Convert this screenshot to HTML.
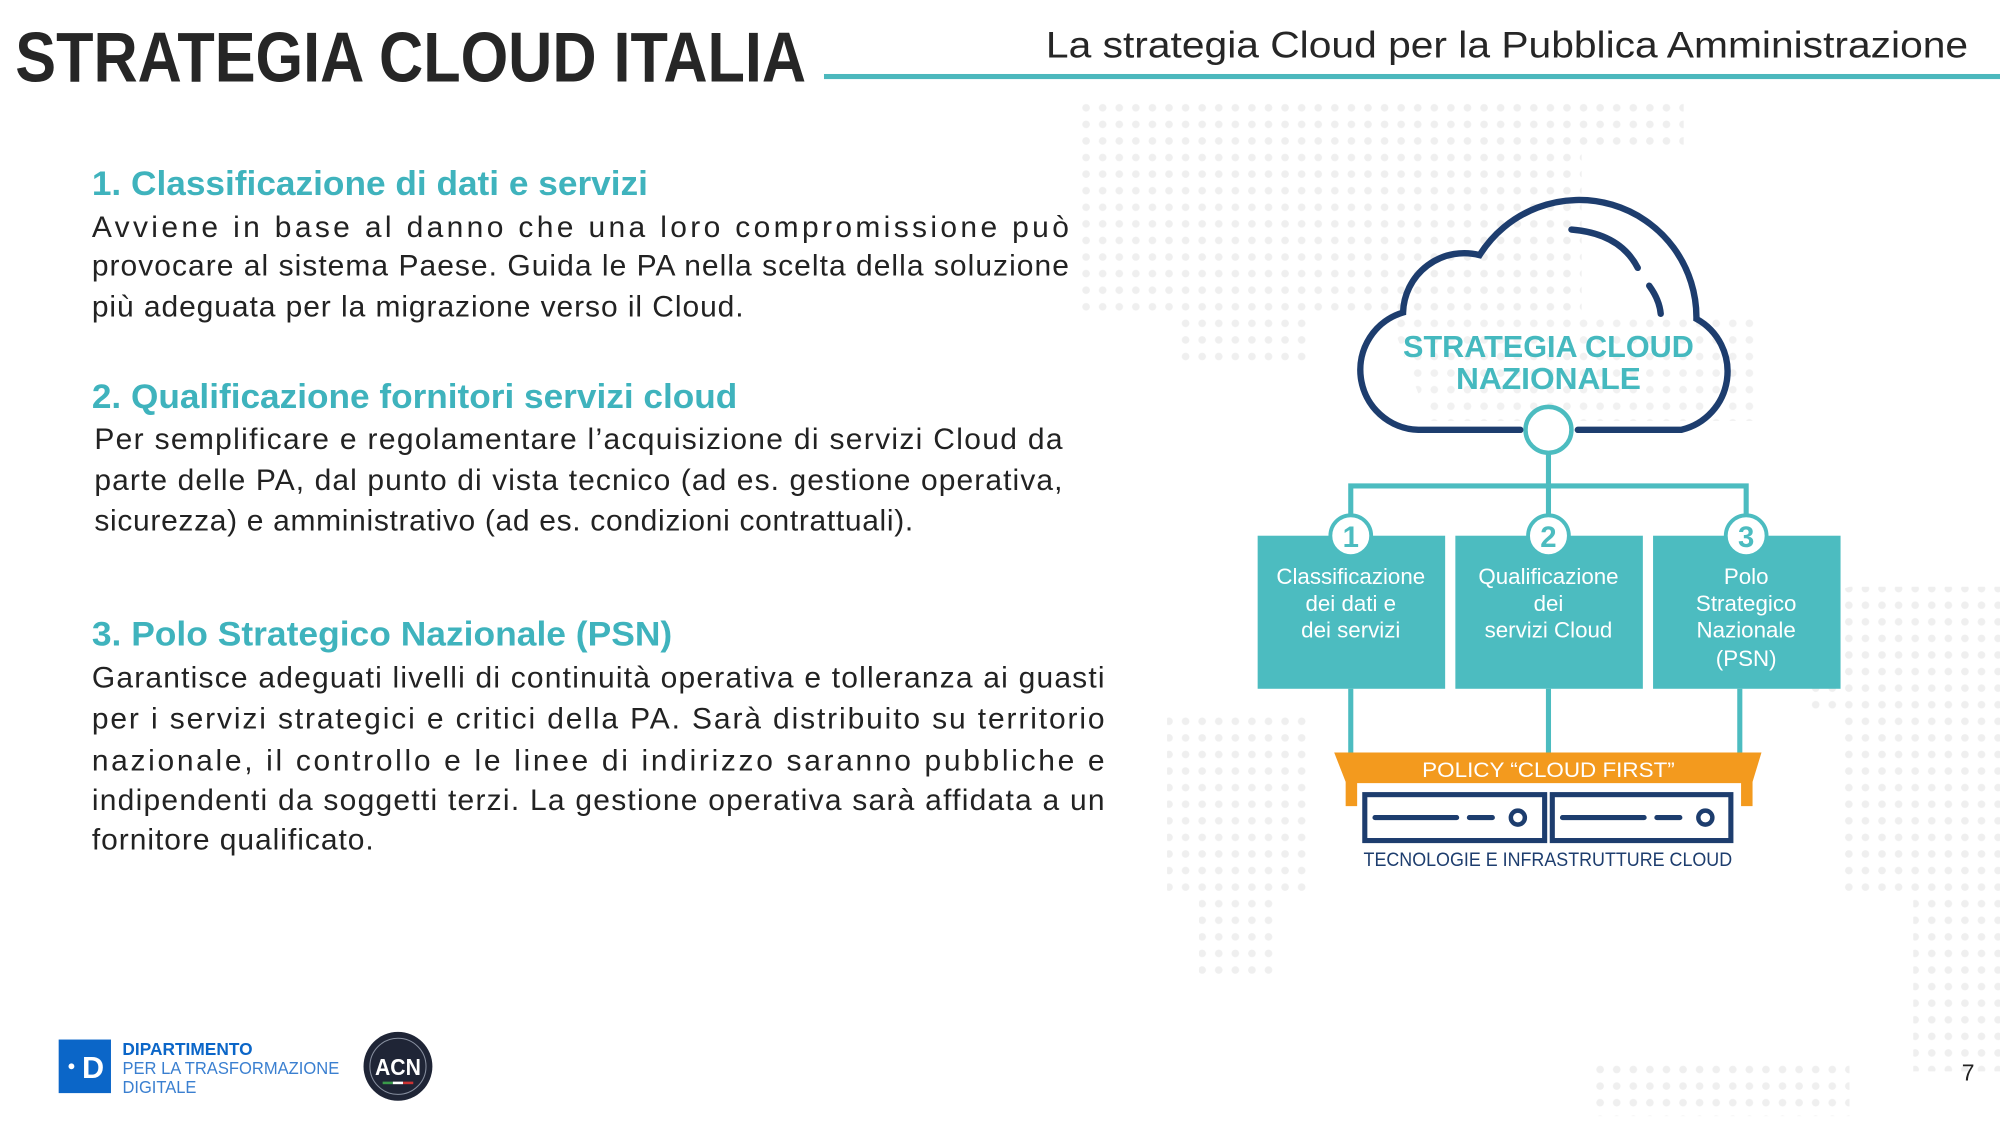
<!DOCTYPE html>
<html><head><meta charset="utf-8"><style>
html,body{margin:0;padding:0;background:#fff}
svg{display:block}
text{font-family:"Liberation Sans",sans-serif}
</style></head><body>
<svg width="2000" height="1125" viewBox="0 0 1568 882" xmlns="http://www.w3.org/2000/svg">
<defs>
<pattern id="dots" width="13" height="13" patternUnits="userSpaceOnUse">
<circle cx="6.5" cy="6.5" r="3" fill="#efefef"/>
</pattern>
</defs>
<rect width="1568" height="882" fill="#fff"/>
<path d="M845,80 H1320 V115 H1240 V250 H1030 V285 H920 V250 H845 Z" fill="url(#dots)"/>
<path d="M1090,250 H1380 V330 H1120 Z" fill="url(#dots)" opacity="0.9"/>
<path d="M915,560 H1030 V700 H1000 V770 H940 V700 H915 Z" fill="url(#dots)"/>
<path d="M1450,460 H1568 V840 H1500 V700 H1440 V560 H1420 V470 Z" fill="url(#dots)"/>
<path d="M1250,835 H1450 V875 H1250 Z" fill="url(#dots)"/>

<text x="12" y="64" font-size="55" font-weight="bold" fill="#262626" textLength="620" lengthAdjust="spacingAndGlyphs">STRATEGIA CLOUD ITALIA</text>
<text x="820" y="45" font-size="29" fill="#262626" textLength="723" lengthAdjust="spacingAndGlyphs">La strategia Cloud per la Pubblica Amministrazione</text>
<rect x="646" y="58" width="922" height="4" fill="#4cb8bd"/>

<g fill="#222" font-size="23.5">
<text x="72" y="153" font-size="27" font-weight="bold" fill="#3fb3bd" textLength="436" lengthAdjust="spacingAndGlyphs">1. Classificazione di dati e servizi</text>
<text x="72" y="186" textLength="766" lengthAdjust="spacing">Avviene in base al danno che una loro compromissione può</text>
<text x="72" y="216" textLength="766" lengthAdjust="spacing">provocare al sistema Paese. Guida le PA nella scelta della soluzione</text>
<text x="72" y="248" textLength="511" lengthAdjust="spacing">più adeguata per la migrazione verso il Cloud.</text>

<text x="72" y="320" font-size="27" font-weight="bold" fill="#3fb3bd" textLength="506" lengthAdjust="spacingAndGlyphs">2. Qualificazione fornitori servizi cloud</text>
<text x="74" y="352" textLength="759" lengthAdjust="spacing">Per semplificare e regolamentare l’acquisizione di servizi Cloud da</text>
<text x="74" y="384" textLength="759" lengthAdjust="spacing">parte delle PA, dal punto di vista tecnico (ad es. gestione operativa,</text>
<text x="74" y="416" textLength="642" lengthAdjust="spacing">sicurezza) e amministrativo (ad es. condizioni contrattuali).</text>

<text x="72" y="506" font-size="27" font-weight="bold" fill="#3fb3bd" textLength="455" lengthAdjust="spacingAndGlyphs">3. Polo Strategico Nazionale (PSN)</text>
<text x="72" y="539" textLength="794" lengthAdjust="spacing">Garantisce adeguati livelli di continuità operativa e tolleranza ai guasti</text>
<text x="72" y="571" textLength="794" lengthAdjust="spacing">per i servizi strategici e critici della PA. Sarà distribuito su territorio</text>
<text x="72" y="604" textLength="794" lengthAdjust="spacing">nazionale, il controllo e le linee di indirizzo saranno pubbliche e</text>
<text x="72" y="635" textLength="794" lengthAdjust="spacing">indipendenti da soggetti terzi. La gestione operativa sarà affidata a un</text>
<text x="72" y="666" textLength="221" lengthAdjust="spacing">fornitore qualificato.</text>
</g>

<g fill="none" stroke="#1d3d6e" stroke-width="5" stroke-linecap="round">
<path d="M1192,337 H1112 A47,47 0 0 1 1100,245 A48,48 0 0 1 1160,200 A92,92 0 0 1 1330,250 A47,47 0 0 1 1318,337 H1237"/>
<path d="M1232,180 Q1270,183 1284,210"/>
<path d="M1293,224 Q1301,235 1302,246"/>
</g>
<text x="1214" y="280" font-size="24" font-weight="bold" fill="#45b9bf" text-anchor="middle" textLength="228" lengthAdjust="spacingAndGlyphs">STRATEGIA CLOUD</text>
<text x="1214" y="305" font-size="24" font-weight="bold" fill="#45b9bf" text-anchor="middle" textLength="145" lengthAdjust="spacingAndGlyphs">NAZIONALE</text>

<g stroke="#4cbcc0" stroke-width="4" fill="none">
<circle cx="1214" cy="337" r="18" stroke-width="3.5" fill="#fff"/>
<path d="M1214,355 V420 M1059,420 V381 H1369 V420"/>
<path d="M1059,540 V592 M1214,540 V592 M1364,540 V592"/>
</g>
<g fill="#4cbcc0">
<rect x="986" y="420" width="147" height="120"/>
<rect x="1141" y="420" width="147" height="120"/>
<rect x="1296" y="420" width="147" height="120"/>
</g>
<g fill="#fff" stroke="#4cbcc0" stroke-width="3">
<circle cx="1059" cy="420" r="16"/><circle cx="1214" cy="420" r="16"/><circle cx="1369" cy="420" r="16"/>
</g>
<g fill="#4cbcc0" font-size="23" font-weight="bold" text-anchor="middle">
<text x="1059" y="429">1</text><text x="1214" y="429">2</text><text x="1369" y="429">3</text>
</g>
<g fill="#fff" font-size="17.5" text-anchor="middle">
<text x="1059" y="458">Classificazione</text><text x="1059" y="479">dei dati e</text><text x="1059" y="500">dei servizi</text>
<text x="1214" y="458">Qualificazione</text><text x="1214" y="479">dei</text><text x="1214" y="500">servizi Cloud</text>
<text x="1369" y="458">Polo</text><text x="1369" y="479">Strategico</text><text x="1369" y="500">Nazionale</text><text x="1369" y="522">(PSN)</text>
</g>

<path d="M1046,590 H1381 L1374,613 V632 H1365 V614 H1064 V632 H1055 V613 Z" fill="#f39a1e"/>
<text x="1214" y="609" font-size="17" fill="#fff" text-anchor="middle" textLength="198" lengthAdjust="spacingAndGlyphs">POLICY “CLOUD FIRST”</text>
<g fill="none" stroke="#1d3d6e" stroke-width="4">
<rect x="1070" y="623" width="141" height="36"/>
<rect x="1217" y="623" width="140" height="36"/>
<path d="M1078,641 H1142 M1152,641 H1170 M1225,641 H1289 M1299,641 H1317" stroke-linecap="round"/>
<circle cx="1190" cy="641" r="5.5" stroke-width="3.5"/>
<circle cx="1337" cy="641" r="5.5" stroke-width="3.5"/>
</g>
<text x="1069" y="679" font-size="15" fill="#1d3d6e" textLength="289" lengthAdjust="spacingAndGlyphs">TECNOLOGIE E INFRASTRUTTURE CLOUD</text>

<rect x="46" y="815" width="41" height="42" fill="#0b66c8"/>
<circle cx="56" cy="836" r="2.3" fill="#fff"/>
<text x="73" y="845" font-size="24" font-weight="bold" fill="#fff" text-anchor="middle">D</text>
<text x="96" y="827" font-size="13.5" font-weight="bold" fill="#0b66c8" textLength="102" lengthAdjust="spacingAndGlyphs">DIPARTIMENTO</text>
<text x="96" y="842" font-size="13.5" fill="#3a7fd0" textLength="170" lengthAdjust="spacingAndGlyphs">PER LA TRASFORMAZIONE</text>
<text x="96" y="857" font-size="13.5" fill="#3a7fd0" textLength="58" lengthAdjust="spacingAndGlyphs">DIGITALE</text>
<circle cx="312" cy="836" r="27" fill="#1f2536"/>
<circle cx="312" cy="836" r="22" fill="none" stroke="#8890a0" stroke-width="0.8"/>
<text x="312" y="843" font-size="18" font-weight="bold" fill="#fff" text-anchor="middle" textLength="36" lengthAdjust="spacingAndGlyphs">ACN</text>
<rect x="300" y="848" width="8" height="2" fill="#3a9a4a"/><rect x="308" y="848" width="8" height="2" fill="#fff"/><rect x="316" y="848" width="8" height="2" fill="#c33"/>
<text x="1543" y="847" font-size="18" fill="#222" text-anchor="middle">7</text>
</svg>
</body></html>
